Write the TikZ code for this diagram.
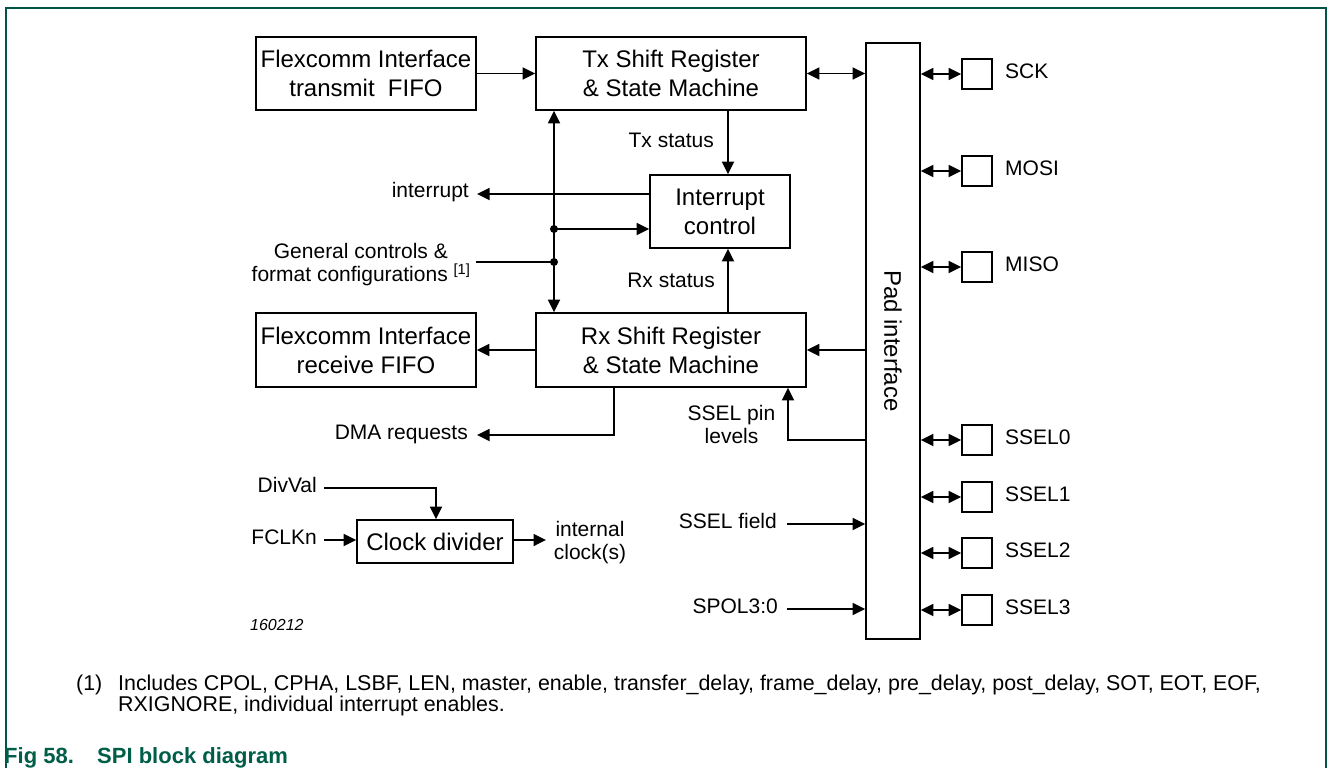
\documentclass[tikz,border=0pt]{standalone}
\usepackage{fontspec}
\setmainfont{Liberation Sans}
\usetikzlibrary{arrows.meta}
\definecolor{framegreen}{RGB}{0,85,70}
\definecolor{capgreen}{RGB}{0,94,72}
\newcommand\bxf{\fontsize{24}{29}\selectfont}
\newcommand\lbf{\fontsize{21}{23}\selectfont}
\newcommand\fnf{\fontsize{21.4}{21}\selectfont}
\newcommand\codef{\fontsize{16}{18}\selectfont\itshape}
\newcommand\capf{\fontsize{22}{24}\selectfont\bfseries}
\begin{document}
\begin{tikzpicture}[x=1pt,y=-1pt,
  box/.style={draw, line width=1.8pt, inner sep=0pt, align=center, font=\bxf},
  pinbox/.style={draw, line width=1.8pt, inner sep=0pt, minimum size=30pt},
  lbl/.style={inner sep=0pt, font=\lbf},
  tip/.tip={Triangle[length=12.5pt,width=12pt]},
  arr/.style={-tip, line width=1.8pt},
  darr/.style={tip-tip, line width=1.8pt},
  wire/.style={line width=1.8pt},
  frameline/.style={draw=framegreen, line width=1.3pt}]
\useasboundingbox (0,0) rectangle (1328,768);
\draw[frameline] (6,768) -- (6,8) -- (1326,8) -- (1326,768);

% blocks
\node[box, minimum width=220pt, minimum height=73pt] (txfifo) at (366,73.5) {Flexcomm Interface\\transmit\ \ FIFO};
\node[box, minimum width=270pt, minimum height=73pt] (tx) at (671,73.5) {Tx Shift Register\\\& State Machine};
\node[box, minimum width=140pt, minimum height=73pt] (intc) at (720,211.5) {Interrupt\\control};
\node[box, minimum width=220pt, minimum height=74pt] (rxfifo) at (366,350) {Flexcomm Interface\\receive FIFO};
\node[box, minimum width=270pt, minimum height=74pt] (rx) at (671,350) {Rx Shift Register\\\& State Machine};
\node[box, minimum width=54pt, minimum height=596pt] (pad) at (893,341) {\rotatebox{-90}{Pad interface}};
\node[box, minimum width=156pt, minimum height=43pt] (clk) at (435,541.5) {Clock divider};

% pins
\node[pinbox] (sck) at (977,74) {};
\node[pinbox] (mosi) at (977,171) {};
\node[pinbox] (miso) at (977,267) {};
\node[pinbox] (ss0) at (977,440) {};
\node[pinbox] (ss1) at (977,497) {};
\node[pinbox] (ss2) at (977,553) {};
\node[pinbox] (ss3) at (977,610) {};
\node[lbl, anchor=mid west] (lsck) at (1005,76) {SCK};
\node[lbl, anchor=mid west] (lmosi) at (1005,173) {MOSI};
\node[lbl, anchor=mid west] (lmiso) at (1005,269) {MISO};
\node[lbl, anchor=mid west] (lss0) at (1005,442) {SSEL0};
\node[lbl, anchor=mid west] (lss1) at (1005,499) {SSEL1};
\node[lbl, anchor=mid west] (lss2) at (1005,555) {SSEL2};
\node[lbl, anchor=mid west] (lss3) at (1005,612) {SSEL3};
\foreach \p in {sck,mosi,miso,ss0,ss1,ss2,ss3}
  \draw[darr] (\p.west -| pad.east) -- (\p.west);

% helper coordinates
\coordinate (bus) at (554,0);
\coordinate (st) at (728,0);
\coordinate (dmax) at (614,0);
\coordinate (irq) at (477,194);
\coordinate (d1) at (554,229);
\coordinate (d2) at (554,262);
\coordinate (gc) at (476,262);
\coordinate (rxy) at (0,350);
\coordinate (spl) at (788,440);
\coordinate (dma) at (477,435);
\coordinate (sf) at (787,524);
\coordinate (sp) at (787,609);
\coordinate (dv) at (324,488);
\coordinate (dvx) at (436,0);
\coordinate (fc) at (324,540);
\coordinate (ic) at (546,540);

% connectors
\draw[arr] (txfifo) -- (tx);
\draw[darr] (tx) -- (tx -| pad.west);
\draw[darr] (tx.south -| bus) -- (rx.north -| bus);
\draw[arr] (tx.south -| st) -- (intc.north -| st);
\draw[arr] (rx.north -| st) -- (intc.south -| st);
\draw[arr] (irq -| intc.west) -- (irq);
\draw[arr] (d1) -- (d1 -| intc.west);
\draw[wire] (gc) -- (d2);
\fill (d1) circle[radius=4pt];
\fill (d2) circle[radius=4pt];
\draw[arr] (rx.west |- rxy) -- (rxfifo.east |- rxy);
\draw[arr] (pad.west |- rxy) -- (rx.east |- rxy);
\draw[arr] (spl -| pad.west) -- (spl) -- (spl |- rx.south);
\draw[arr] (dmax |- rx.south) -- (dmax |- dma) -- (dma);
\draw[arr] (sf) -- (sf -| pad.west);
\draw[arr] (sp) -- (sp -| pad.west);
\draw[arr] (dv) -- (dv -| dvx) -- (dvx |- clk.north);
\draw[arr] (fc) -- (fc -| clk.west);
\draw[arr] (clk.east |- ic) -- (ic);

% labels
\node[lbl, anchor=mid east] (ltxs) at (714,145) {Tx status};
\node[lbl, anchor=mid east] (lrxs) at (715,285) {Rx status};
\node[lbl, anchor=mid east] (lirq) at (469,195) {interrupt};
\node[lbl, anchor=east, align=right] (lgc) at (448,265) {General controls \&\\format configurations\rlap{ \textsuperscript{[1]}}};
\node[lbl, anchor=mid east] (ldma) at (468,437) {DMA requests};
\node[lbl, align=center] (lspl) at (731.5,424) {SSEL pin\\levels};
\node[lbl, anchor=mid east] (lsf) at (777,526) {SSEL field};
\node[lbl, anchor=mid east] (lsp) at (778,611) {SPOL3:0};
\node[lbl, anchor=mid east] (ldv) at (317,490) {DivVal};
\node[lbl, anchor=mid east] (lfc) at (317,542) {FCLKn};
\node[lbl, align=center] (lic) at (590,542.5) {internal\\clock(s)};
\node[inner sep=0pt, anchor=mid west, font=\codef] (code) at (250,628) {160212};

% footnote and caption
\node[inner sep=0pt, anchor=base west, font=\fnf] (fnn) at (76,690.5) {(1)};
\node[inner sep=0pt, anchor=north west, align=left, font=\fnf] (fn) at (118,675) {Includes CPOL, CPHA, LSBF, LEN, master, enable, transfer\_delay, frame\_delay, pre\_delay, post\_delay, SOT, EOT, EOF,\\RXIGNORE, individual interrupt enables.};
\node[inner sep=0pt, anchor=base west, font=\capf, text=capgreen] (cap) at (4,763) {\makebox[93pt][l]{Fig 58.}SPI block diagram};
\end{tikzpicture}
\end{document}
